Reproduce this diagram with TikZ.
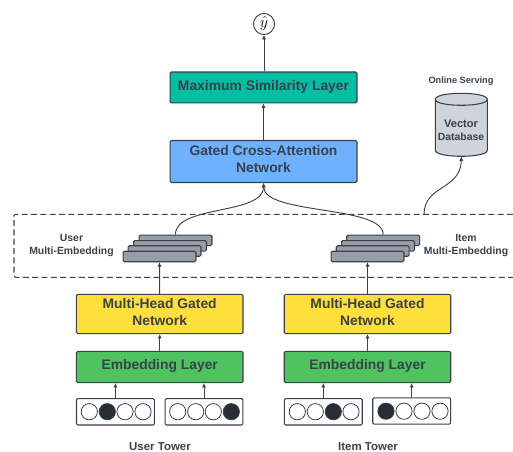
\documentclass[tikz,border=0pt]{standalone}
\usepackage{fontspec}
\setmainfont{Liberation Sans}
\usetikzlibrary{arrows.meta}
\definecolor{ink}{HTML}{3A414A}
\definecolor{tealbox}{HTML}{00BFA5}
\definecolor{bluebox}{HTML}{6DB1FF}
\definecolor{yellowbox}{HTML}{FFDF3C}
\definecolor{greenbox}{HTML}{4FC35F}
\definecolor{stackgray}{HTML}{979EA8}
\definecolor{dbgray}{HTML}{CED4DB}
\definecolor{dot}{HTML}{282C33}
\tikzset{
  x=0.75pt,y=-0.75pt,
  box/.style={draw=ink,line width=0.8pt,rounded corners=1pt,align=center,font=\bfseries\fontsize{10.4}{12.5}\selectfont,text=ink,inner sep=0pt,text depth=3.4pt},
  widebox/.style={box,minimum width=140.2pt},
  towerbox/.style={box,minimum width=124.9pt},
  layer/.style={draw=ink,line width=0.8pt,rounded corners=1pt,fill=stackgray,minimum width=54.7pt,minimum height=7.9pt,inner sep=0pt},
  inputbox/.style={draw=ink,line width=0.8pt,rounded corners=1pt,fill=white,minimum width=58.4pt,minimum height=19.8pt,inner sep=0pt},
  cell/.style={circle,draw=ink,line width=0.6pt,fill=white,minimum size=12.2pt,inner sep=0pt},
  hot/.style={cell,fill=dot},
  arr/.style={draw=ink,line width=0.7pt,-{Latex[length=3.2pt,width=3.2pt]}},
  label/.style={align=center,text=ink,inner sep=0pt,font=\bfseries\fontsize{7.8}{9.8}\selectfont},
  tower/.style={text=ink,inner sep=0pt,font=\bfseries\fontsize{8.6}{10}\selectfont},
}
\begin{document}
\begin{tikzpicture}
\useasboundingbox (0,0) rectangle (513,452);
% dashed region
\draw[ink,line width=0.8pt,dash pattern=on 4.4pt off 2.6pt,rounded corners=1pt] (513,214.3) -- (14,214.3) -- (14,277.3) -- (513,277.3);
% upper boxes
\node[circle,draw=ink,line width=0.7pt,minimum size=15.8pt,inner sep=0pt,fill=white,font=\fontsize{12.5}{14}\selectfont] (yhat) at (264,24) {$\hat{y}$};
\node[widebox,fill=tealbox,minimum height=23.2pt] (maxsim) at (263.5,87.5) {Maximum Similarity Layer};
\node[widebox,fill=bluebox,minimum height=31.5pt] (gca) at (263.5,161.5) {Gated Cross-Attention\\Network};
% user stack
\node[layer] (su4) at (175.5,240.3) {};
\node[layer] (su3) at (170,245.8) {};
\node[layer] (su2) at (164.5,251) {};
\node[layer] (su1) at (159.5,256.5) {};
% item stack
\node[layer] (si4) at (383.2,240.3) {};
\node[layer] (si3) at (378,245.8) {};
\node[layer] (si2) at (372.7,251) {};
\node[layer] (si1) at (367.5,256.5) {};
\node[label] (ulabel) at (71.5,245.5) {User\\Multi-Embedding};
\node[label] (ilabel) at (466,245.5) {Item\\Multi-Embedding};
% database
\node[label] (online) at (461,81) {\fontsize{6.9}{8}\selectfont Online Serving};
\filldraw[draw=ink,line width=0.8pt,fill=dbgray]
  (435.3,99.3) -- (435.3,150.3) .. controls (435.3,158.3) and (487.3,158.3) .. (487.3,150.3) -- (487.3,99.3)
  .. controls (487.3,91.3) and (435.3,91.3) .. (435.3,99.3) -- cycle;
\draw[ink,line width=0.8pt] (435.3,99.3) .. controls (435.3,107.3) and (487.3,107.3) .. (487.3,99.3);
\node[label,minimum width=39pt,minimum height=47.2pt] (db) at (461.3,124.8) {};
\node[label] (dbtext) at (461,130) {\fontsize{8.3}{9.4}\selectfont Vector\\Database};
\coordinate (dbout) at (424,214.3);
% towers
\node[towerbox,fill=yellowbox,minimum height=29.5pt] (mhu) at (159.7,314) {Multi-Head Gated\\Network};
\node[towerbox,fill=yellowbox,minimum height=29.5pt] (mhi) at (367.5,314) {Multi-Head Gated\\Network};
\node[towerbox,fill=greenbox,minimum height=23.5pt] (embu) at (159.7,367) {Embedding Layer};
\node[towerbox,fill=greenbox,minimum height=23.5pt] (embi) at (367.5,367) {Embedding Layer};
% inputs
\node[inputbox] (iu1) at (115.4,411.8) {};
\node[inputbox] (iu2) at (204,411.8) {};
\node[inputbox] (ii1) at (323.3,411.8) {};
\node[inputbox] (ii2) at (411.7,411) {};
\node[cell] (a1) at (89.3,411.7) {};
\node[hot]  (a2) at (107.3,411.7) {};
\node[cell] (a3) at (125,411.7) {};
\node[cell] (a4) at (143,411.7) {};
\node[cell] (b1) at (177.7,411.7) {};
\node[cell] (b2) at (195.7,411.7) {};
\node[cell] (b3) at (213.3,411.7) {};
\node[hot]  (b4) at (231.3,411.7) {};
\node[cell] (c1) at (297.3,411.7) {};
\node[cell] (c2) at (315.3,411.7) {};
\node[hot]  (c3) at (333.3,411.7) {};
\node[cell] (c4) at (351,411.7) {};
\node[hot]  (d1) at (386,411.2) {};
\node[cell] (d2) at (404,411.2) {};
\node[cell] (d3) at (422,411.2) {};
\node[cell] (d4) at (440,411.2) {};
\node[tower] (utower) at (160,446.5) {User Tower};
\node[tower] (itower) at (368,446.5) {Item Tower};
% connectors
\draw[arr] (maxsim.north -| yhat) -- (yhat.south);
\draw[arr] (gca.north) -- (maxsim.south);
\draw[arr] (mhu.north) -- (su1.south);
\draw[arr] (mhi.north) -- (si1.south);
\draw[arr] (embu.north) -- (mhu.south);
\draw[arr] (embi.north) -- (mhi.south);
\draw[arr] (iu1.north) -- (iu1.north |- embu.south);
\draw[arr] (iu2.north) -- (iu2.north |- embu.south);
\draw[arr] (ii1.north) -- (ii1.north |- embi.south);
\draw[arr] (ii2.north) -- (ii2.north |- embi.south);
\draw[arr] (su4.north) .. controls (175,205) and (264,215) .. (gca.south);
\draw[arr] (si4.north) .. controls (383,205) and (264,215) .. (gca.south);
\draw[arr] (dbout) .. controls (424,185) and (461,190) .. (db.south);
\end{tikzpicture}
\end{document}
